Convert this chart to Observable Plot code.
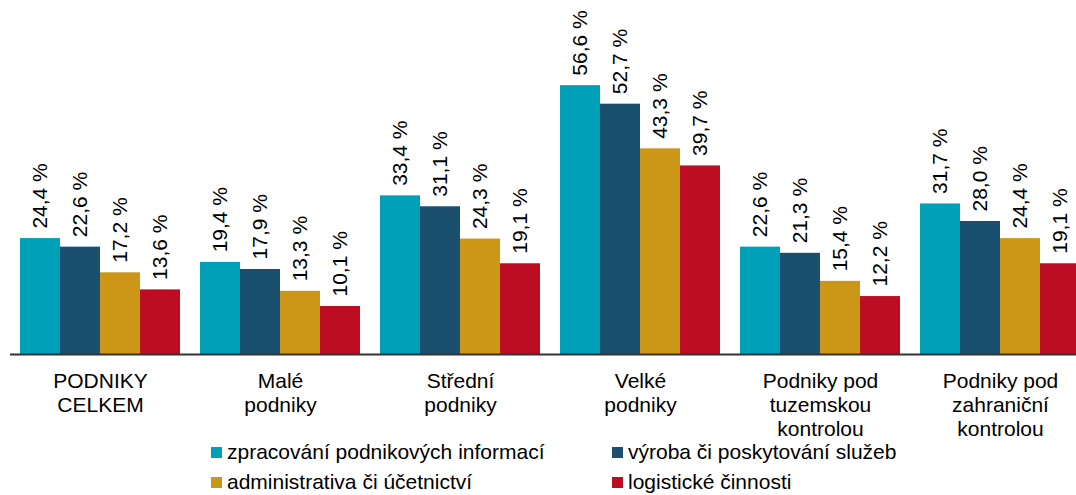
<!DOCTYPE html>
<html>
<head>
<meta charset="utf-8">
<script src="https://cdn.jsdelivr.net/npm/d3@7"></script>
<script src="https://cdn.jsdelivr.net/npm/@observablehq/plot@0.6"></script>
<style>
  html, body { margin: 0; padding: 0; background: #fff; overflow: hidden; }
  body { font-family: "Liberation Sans", Arial, sans-serif; width: 1076px; height: 495px; position: relative; }
  #legend { position: absolute; left: 211px; top: 437px; display: grid; grid-template-columns: 401px auto; font-size: 21px; line-height: 30px; color: #000; }
  .item { display: flex; align-items: center; white-space: nowrap; }
  .sw { width: 11px; height: 11px; margin-right: 5px; flex: none; }
</style>
</head>
<body>
<div id="chart"></div>
<div id="legend"></div>
<script>
const groups = ["PODNIKY\nCELKEM", "Malé\npodniky", "Střední\npodniky", "Velké\npodniky", "Podniky pod\ntuzemskou\nkontrolou", "Podniky pod\nzahraniční\nkontrolou"];
const series = ["zpracování podnikových informací", "výroba či poskytování služeb", "administrativa či účetnictví", "logistické činnosti"];
const colors = ["#00A0B8", "#1A4F6E", "#CC9616", "#BD0D22"];
const zpracovani = [24.4, 19.4, 33.4, 56.6, 22.6, 31.7];
const vyroba = [22.6, 17.9, 31.1, 52.7, 21.3, 28.0];
const administrativa = [17.2, 13.3, 24.3, 43.3, 15.4, 24.4];
const logistika = [13.6, 10.1, 19.1, 39.7, 12.2, 19.1];
const seriesValues = [zpracovani, vyroba, administrativa, logistika];

const data = [];
groups.forEach((g, i) => {
  series.forEach((s, j) => {
    data.push({group: g, series: s, value: seriesValues[j][i]});
  });
});
const fmt = v => v.toFixed(1).replace(".", ",") + " %";

const chart = Plot.plot({
  width: 1076,
  height: 440,
  marginLeft: 10,
  marginRight: -14,
  marginTop: 69,
  marginBottom: 86,
  style: {fontFamily: "'Liberation Sans', Arial, sans-serif", fontSize: "21px", color: "#000"},
  fx: {domain: groups, padding: 0, axis: null, label: null},
  x: {domain: series, paddingInner: 0, paddingOuter: 0.25, axis: null},
  y: {domain: [0, 60], axis: null},
  color: {domain: series, range: colors},
  marks: [
    Plot.barY(data, {fx: "group", x: "series", y: "value", fill: "series"}),
    Plot.ruleY([0], {stroke: "#333", strokeWidth: 2}),
    Plot.text(data, {fx: "group", x: "series", y: "value", text: d => fmt(d.value), rotate: -90, textAnchor: "start", dy: -10, fontSize: 21, fill: "#000"}),
    Plot.axisFx({anchor: "bottom", tickSize: 0, tickPadding: 16, fontSize: 21, lineHeight: 1.15, label: null, fill: "#000"})
  ]
});
document.getElementById("chart").appendChild(chart);

const legend = document.getElementById("legend");
series.forEach((s, i) => {
  const item = document.createElement("div");
  item.className = "item";
  const sw = document.createElement("span");
  sw.className = "sw";
  sw.style.background = colors[i];
  const t = document.createElement("span");
  t.textContent = s;
  item.appendChild(sw);
  item.appendChild(t);
  legend.appendChild(item);
});
</script>
</body>
</html>
